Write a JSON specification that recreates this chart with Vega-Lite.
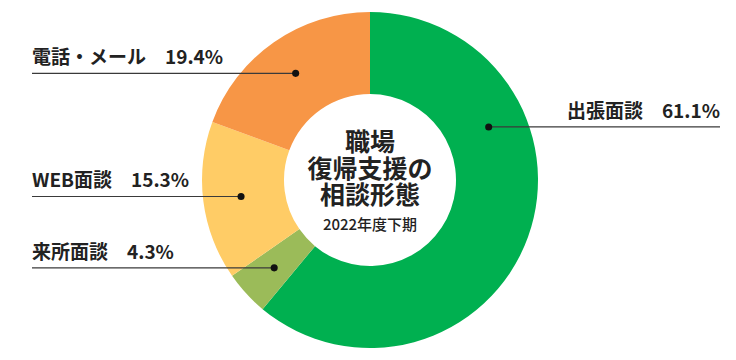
{
  "$schema": "https://vega.github.io/schema/vega-lite/v6.json",
  "width": 736,
  "height": 360,
  "autosize": {"type": "fit", "contains": "padding"},
  "padding": {"left": 4, "right": 0, "top": 0, "bottom": 0},
  "background": "white",
  "config": {"view": {"stroke": null}, "font": "Noto Sans CJK JP"},
  "data": {
    "values": [
      {"category": "出張面談", "value": 61.1},
      {"category": "来所面談", "value": 4.3},
      {"category": "WEB面談", "value": 15.3},
      {"category": "電話・メール", "value": 19.4}
    ]
  },
  "transform": [
    {"window": [{"op": "sum", "field": "value", "as": "cum"}, {"op": "row_number", "as": "idx"}], "frame": [null, 0]},
    {"joinaggregate": [{"op": "sum", "field": "value", "as": "total"}]},
    {"calculate": "(datum.cum - datum.value) / datum.total", "as": "start"},
    {"calculate": "datum.value / datum.total", "as": "frac"},
    {"calculate": "2 * PI * (datum.start + datum.frac * (datum.frac > 0.5 ? 0.3 : 0.5))", "as": "ang"},
    {"calculate": "130 * sin(datum.ang)", "as": "px"},
    {"calculate": "130 * cos(datum.ang)", "as": "py"},
    {"calculate": "datum.px > 0 ? 350 : -338", "as": "edge"},
    {"calculate": "datum.category + '\u3000' + format(datum.value, '.1f') + '%'", "as": "label"}
  ],
  "layer": [
    {
      "mark": {"type": "arc", "innerRadius": 86, "outerRadius": 168},
      "encoding": {
        "theta": {"field": "value", "type": "quantitative", "stack": true},
        "order": {"field": "idx", "type": "quantitative"},
        "color": {
          "field": "category",
          "type": "nominal",
          "scale": {
            "domain": ["出張面談", "来所面談", "WEB面談", "電話・メール"],
            "range": ["#00B050", "#9BBB59", "#FFCC66", "#F79646"]
          },
          "legend": null
        }
      }
    },
    {
      "mark": {"type": "rule", "color": "#3a3a3a", "strokeWidth": 1.2},
      "encoding": {
        "x": {"field": "edge", "type": "quantitative", "scale": {"domain": [-366, 366], "nice": false, "zero": false}, "axis": null},
        "x2": {"field": "px"},
        "y": {"field": "py", "type": "quantitative", "scale": {"domain": [-180, 180], "nice": false, "zero": false}, "axis": null}
      }
    },
    {
      "mark": {"type": "point", "filled": true, "color": "#111111", "size": 50, "opacity": 1},
      "encoding": {
        "x": {"field": "px", "type": "quantitative"},
        "y": {"field": "py", "type": "quantitative"}
      }
    },
    {
      "transform": [{"filter": "datum.px < 0"}],
      "mark": {"type": "text", "align": "left", "baseline": "middle", "dy": -15, "fontSize": 19, "fontWeight": 600, "color": "#222222"},
      "encoding": {
        "x": {"field": "edge", "type": "quantitative"},
        "y": {"field": "py", "type": "quantitative"},
        "text": {"field": "label"}
      }
    },
    {
      "transform": [{"filter": "datum.px > 0"}],
      "mark": {"type": "text", "align": "right", "baseline": "middle", "dy": -15, "fontSize": 19, "fontWeight": 600, "color": "#222222"},
      "encoding": {
        "x": {"field": "edge", "type": "quantitative"},
        "y": {"field": "py", "type": "quantitative"},
        "text": {"field": "label"}
      }
    },
    {
      "data": {"values": [{"title": "職場\n復帰支援の\n相談形態", "sub": "2022年度下期"}]},
      "layer": [
        {
          "mark": {"type": "text", "lineBreak": "\n", "align": "center", "baseline": "middle", "dy": -37, "fontSize": 25, "fontWeight": "bold", "lineHeight": 26.5, "color": "#222222"},
          "encoding": {"text": {"field": "title"}}
        },
        {
          "mark": {"type": "text", "align": "center", "baseline": "middle", "dy": 45, "fontSize": 15, "fontWeight": 500, "color": "#222222"},
          "encoding": {"text": {"field": "sub"}}
        }
      ]
    }
  ]
}
